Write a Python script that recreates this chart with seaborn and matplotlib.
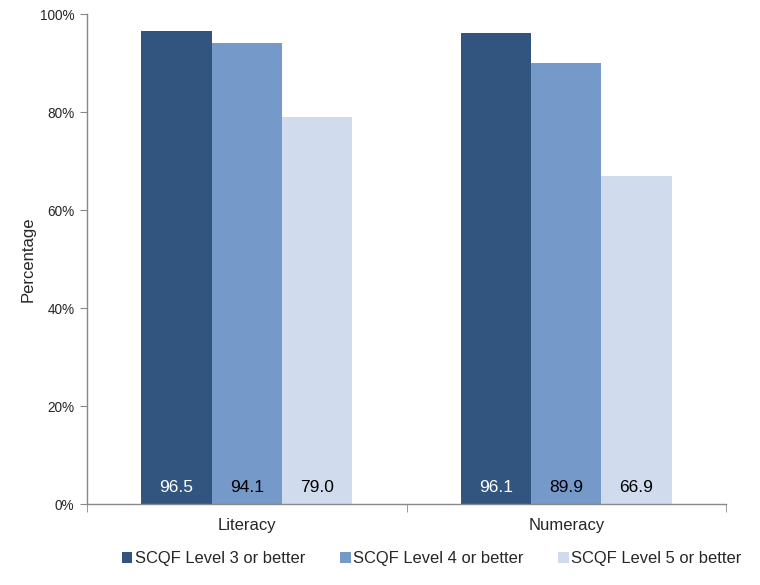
import matplotlib
matplotlib.use("Agg")
import matplotlib.pyplot as plt
import seaborn as sns
import pandas as pd
from matplotlib.ticker import FixedLocator

# %% Data ----
measures = ["Literacy", "Numeracy"]
levels = ["SCQF Level 3 or better", "SCQF Level 4 or better", "SCQF Level 5 or better"]
literacy = [96.5, 94.1, 79.0]
numeracy = [96.1, 89.9, 66.9]
colors = ["#31557F", "#7599C9", "#D0DCEE"]
label_colors = ["white", "black", "black"]

df = pd.DataFrame({
    "measure": ["Literacy"] * 3 + ["Numeracy"] * 3,
    "level": levels * 2,
    "value": literacy + numeracy,
})

# %% Plot ----
sns.set_style("white")
plt.rcParams["font.family"] = ["Liberation Sans", "DejaVu Sans"]

fig = plt.figure(figsize=(7.6, 5.85), dpi=100)
ax = fig.add_axes([87 / 760, 1 - 504 / 585, (726 - 87) / 760, (504 - 14) / 585])

sns.barplot(data=df, x="measure", y="value", hue="level", palette=colors,
            order=measures, hue_order=levels, width=0.66, gap=0,
            saturation=1, linewidth=0, ax=ax, legend=True)

# value labels at the foot of each bar
for container, tc in zip(ax.containers, label_colors):
    for bar, v in zip(container, container.datavalues):
        ax.text(bar.get_x() + bar.get_width() / 2, 3.3, f"{v:.1f}",
                ha="center", va="center", fontsize=12.5, color=tc)

ax.set_xlim(-0.5, 1.5)
ax.set_ylim(0, 100)
ax.set_yticks(range(0, 101, 20))
ax.set_yticklabels([f"{v}%" for v in range(0, 101, 20)], fontsize=9.8)
ax.set_xlabel("")
ax.set_ylabel("Percentage", fontsize=12, labelpad=3)
ax.tick_params(axis="x", which="major", length=0, labelsize=12, pad=10)
ax.xaxis.set_minor_locator(FixedLocator([-0.5, 0.5, 1.5]))
ax.tick_params(axis="x", which="minor", length=6, color="#888888", direction="out", bottom=True)
ax.tick_params(axis="y", length=5, color="#888888", direction="out", left=True, pad=4)

for s in ["top", "right"]:
    ax.spines[s].set_visible(False)
for s in ["left", "bottom"]:
    ax.spines[s].set_color("#888888")
    ax.spines[s].set_linewidth(1)

handles, labs = ax.get_legend_handles_labels()
ax.get_legend().remove()
fig.legend(handles, labs, loc="center", bbox_to_anchor=(0.568, 1 - 559 / 585),
           ncol=3, frameon=False, fontsize=11.9, handlelength=0.65, handleheight=0.65,
           handletextpad=0.15, columnspacing=2.1)

fig.savefig("out.png", dpi=100)
